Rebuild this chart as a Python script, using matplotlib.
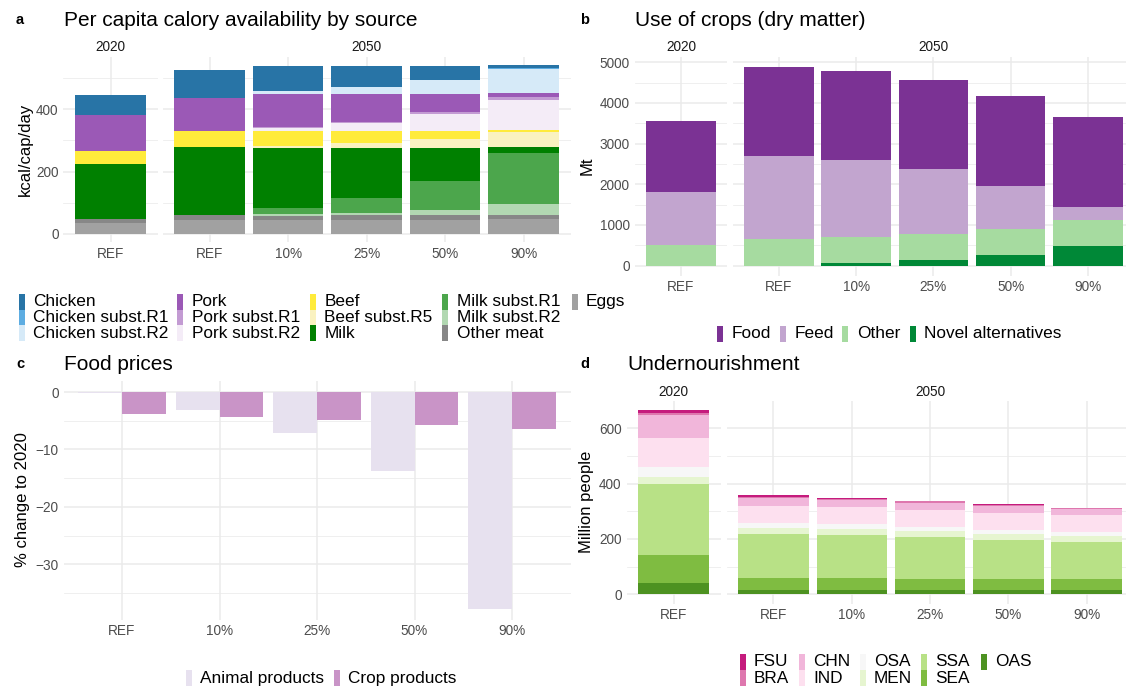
import matplotlib
matplotlib.use("Agg")
import matplotlib.pyplot as plt
from matplotlib.patches import Rectangle
from matplotlib.ticker import MultipleLocator
import numpy as np

W, H = 1126, 689
plt.rcParams['font.family'] = ['Liberation Sans', 'DejaVu Sans']

# ---------------- data ----------------
scen_2020 = ["REF"]
scen_2050 = ["REF", "10%", "25%", "50%", "90%"]

# Panel a: kcal/cap/day (2020 REF, 2050 REF, 10%, 25%, 50%, 90%)
a_sources = ["Chicken", "Chicken subst.R1", "Chicken subst.R2", "Pork", "Pork subst.R1",
             "Pork subst.R2", "Beef", "Beef subst.R5", "Milk", "Milk subst.R1",
             "Milk subst.R2", "Other meat", "Eggs"]
a_colors = ["#2874A6", "#5DADE2", "#D6EAF8", "#9B59B6", "#C39BD3", "#F4ECF7",
            "#FFEB3B", "#FAF2C0", "#008000", "#4CA64C", "#B2D8B2", "#878787", "#A1A1A1"]
chicken = [64, 90, 80, 69, 45, 10]
chicken_r1 = [0, 0, 0, 0, 0, 3]
chicken_r2 = [0, 0, 10, 22, 45, 77]
pork = [116, 106, 106, 90, 58, 12]
pork_r1 = [0, 0, 3, 3, 6, 10]
pork_r2 = [0, 0, 10, 26, 55, 96]
beef = [42, 51, 48, 38, 25, 7]
beef_r5 = [0, 0, 6, 16, 29, 48]
milk = [177, 218, 193, 160, 106, 19]
milk_r1 = [0, 0, 19, 48, 93, 164]
milk_r2 = [0, 0, 6, 6, 16, 35]
other_meat = [13, 16, 13, 16, 16, 13]
eggs = [35, 45, 45, 45, 45, 48]
a_values = [chicken, chicken_r1, chicken_r2, pork, pork_r1, pork_r2, beef, beef_r5,
            milk, milk_r1, milk_r2, other_meat, eggs]

# Panel b: Mt dry matter
b_uses = ["Food", "Feed", "Other", "Novel alternatives"]
b_colors = ["#7B3294", "#C2A5CF", "#A6DBA0", "#008837"]
food = [1746, 2188, 2189, 2189, 2213, 2213]
feed = [1303, 2041, 1893, 1598, 1057, 320]
other = [508, 656, 639, 640, 640, 639]
novel = [0, 0, 66, 139, 262, 484]
b_values = [food, feed, other, novel]

# Panel c: % change to 2020
c_scen = ["REF", "10%", "25%", "50%", "90%"]
animal_products = [-0.1, -3.1, -7.1, -13.7, -37.8]
crop_products = [-3.8, -4.3, -4.8, -5.7, -6.4]
c_labels = ["Animal products", "Crop products"]
c_colors = ["#E7E1EF", "#C994C7"]

# Panel d: million people undernourished
d_regions = ["FSU", "BRA", "CHN", "IND", "OSA", "MEN", "SSA", "SEA", "OAS"]
d_colors = ["#C51B7D", "#DE77AE", "#F1B6DA", "#FDE0EF", "#F7F7F7", "#E6F5D0",
            "#B8E186", "#7FBC41", "#4D9221"]
fsu = [11, 6, 3.6, 0.4, 3.6, 0.4]
bra = [7, 4, 3.6, 7, 3.6, 3.6]
chn = [83, 29, 25, 25, 25, 22]
ind = [105, 61, 61, 61, 61, 61]
osa = [36, 18, 18, 14.5, 14.5, 14.5]
men = [25, 22, 22, 22, 22, 22]
ssa = [257, 159, 155, 152, 141, 134]
sea = [101, 43, 43, 40, 40, 40]
oas = [41, 16, 16, 16, 16, 16]
d_values = [fsu, bra, chn, ind, osa, men, ssa, sea, oas]

# ---------------- helpers ----------------
GRID = "#EBEBEB"
TICKC = "#4D4D4D"
TICKFS = 9.8


def px_axes(fig, x0, x1, ytop, ybot):
    return fig.add_axes([x0 / W, 1 - ybot / H, (x1 - x0) / W, (ybot - ytop) / H])


def style(ax, n, ylim, major, minor, xlabels, show_y):
    ax.set_xlim(-0.6, n - 0.4)
    ax.set_ylim(*ylim)
    ax.set_xticks(np.arange(n))
    ax.set_xticklabels(xlabels)
    ax.yaxis.set_major_locator(MultipleLocator(major))
    ax.yaxis.set_minor_locator(MultipleLocator(minor))
    ax.grid(which='major', color=GRID, lw=1.1)
    ax.grid(which='minor', axis='y', color=GRID, lw=0.55)
    ax.set_axisbelow(True)
    for s in ax.spines.values():
        s.set_visible(False)
    ax.tick_params(which='both', length=0, labelsize=TICKFS, labelcolor=TICKC)
    ax.tick_params(axis='x', pad=3)
    ax.tick_params(axis='y', pad=3.5)
    if not show_y:
        ax.tick_params(labelleft=False)


def stacked(ax, values_top_to_bottom, colors, idx):
    n = len(idx)
    x = np.arange(n)
    bottom = np.zeros(n)
    for vals, col in reversed(list(zip(values_top_to_bottom, colors))):
        v = np.array([vals[i] for i in idx], dtype=float)
        ax.bar(x, v, width=0.9, bottom=bottom, color=col, linewidth=0)
        bottom += v


def ftext(fig, x, y, s, **kw):
    fig.text(x / W, 1 - y / H, s, **kw)


def legend(fig, entries, y_center_rows, text_xs, fs=12.4):
    # entries: (label, color, col, row)
    for label, col, c, r in entries:
        tx = text_xs[c]
        yc = y_center_rows[r]
        kx = tx - 14.5
        fig.add_artist(Rectangle((kx / W, 1 - (yc + 8) / H), 6 / W, 16 / H,
                                 transform=fig.transFigure, facecolor=col,
                                 edgecolor='none'))
        ftext(fig, tx, yc, label, fontsize=fs, ha='left', va='center', color='black')


fig = plt.figure(figsize=(W / 100, H / 100), dpi=100)
fig.patch.set_facecolor('white')

# ---------------- panel a ----------------
a_ylim = (-27.1, 569.1)
ax = px_axes(fig, 63.4, 157.6, 56.6, 242.4)
stacked(ax, a_values, a_colors, [0])
style(ax, 1, a_ylim, 200, 100, scen_2020, True)
ax = px_axes(fig, 162.5, 570.7, 56.6, 242.4)
stacked(ax, a_values, a_colors, [1, 2, 3, 4, 5])
style(ax, 5, a_ylim, 200, 100, scen_2050, False)
ftext(fig, 110.5, 47.3, "2020", fontsize=TICKFS, ha='center', va='center', color='#1A1A1A')
ftext(fig, 366.6, 47.3, "2050", fontsize=TICKFS, ha='center', va='center', color='#1A1A1A')
ftext(fig, 63.6, 20.7, "Per capita calory availability by source", fontsize=15, ha='left', va='center')
ftext(fig, 20, 20, "a", fontsize=10.5, fontweight='bold', ha='center', va='center')
ftext(fig, 25, 149.5, "kcal/cap/day", fontsize=12, rotation=90, ha='center', va='center')

a_cols = [0, 0, 0, 1, 1, 1, 2, 2, 2, 3, 3, 3, 4]
a_rows = [0, 1, 2, 0, 1, 2, 0, 1, 2, 0, 1, 2, 0]
legend(fig, [(l, c, cc, rr) for l, c, cc, rr in zip(a_sources, a_colors, a_cols, a_rows)],
       [301.7, 317.5, 333.3], [33, 192, 324.5, 457, 586])

# ---------------- panel b ----------------
b_ylim = (-244, 5129)
ax = px_axes(fig, 634.6, 727.4, 57.0, 275.6)
stacked(ax, b_values, b_colors, [0])
style(ax, 1, b_ylim, 1000, 500, scen_2020, True)
ax = px_axes(fig, 732.6, 1134.3, 57.0, 275.6)
stacked(ax, b_values, b_colors, [1, 2, 3, 4, 5])
style(ax, 5, b_ylim, 1000, 500, scen_2050, False)
ftext(fig, 681, 47.3, "2020", fontsize=TICKFS, ha='center', va='center', color='#1A1A1A')
ftext(fig, 933, 47.3, "2050", fontsize=TICKFS, ha='center', va='center', color='#1A1A1A')
ftext(fig, 634.7, 20.7, "Use of crops (dry matter)", fontsize=15, ha='left', va='center')
ftext(fig, 585, 20, "b", fontsize=10.5, fontweight='bold', ha='center', va='center')
ftext(fig, 587, 166, "Mt", fontsize=12, rotation=90, ha='center', va='center')
legend(fig, [(l, c, i, 0) for i, (l, c) in enumerate(zip(b_uses, b_colors))],
       [333.5], [731.5, 794.7, 856.8, 924])

# ---------------- panel c ----------------
ax = px_axes(fig, 63.5, 570.5, 381.2, 619.9)
x = np.arange(len(c_scen))
ax.bar(x - 0.225, animal_products, width=0.45, color=c_colors[0], linewidth=0)
ax.bar(x + 0.225, crop_products, width=0.45, color=c_colors[1], linewidth=0)
style(ax, 5, (-39.7, 1.89), 10, 5, c_scen, True)
ftext(fig, 63.6, 364, "Food prices", fontsize=15, ha='left', va='center')
ftext(fig, 20.7, 364, "c", fontsize=10.5, fontweight='bold', ha='center', va='center')
ftext(fig, 23, 500, "% change to 2020", fontsize=12, rotation=90, ha='center', va='center')
legend(fig, [(l, c, i, 0) for i, (l, c) in enumerate(zip(c_labels, c_colors))],
       [678], [200, 348])

# ---------------- panel d ----------------
d_ylim = (-33.3, 699.3)
ax = px_axes(fig, 626.5, 720.5, 400.8, 603.5)
stacked(ax, d_values, d_colors, [0])
style(ax, 1, d_ylim, 200, 100, scen_2020, True)
ax = px_axes(fig, 726.5, 1133.7, 400.8, 603.5)
stacked(ax, d_values, d_colors, [1, 2, 3, 4, 5])
style(ax, 5, d_ylim, 200, 100, scen_2050, False)
ftext(fig, 673.5, 391.7, "2020", fontsize=TICKFS, ha='center', va='center', color='#1A1A1A')
ftext(fig, 930, 391.7, "2050", fontsize=TICKFS, ha='center', va='center', color='#1A1A1A')
ftext(fig, 627.5, 364, "Undernourishment", fontsize=15, ha='left', va='center')
ftext(fig, 584.5, 364, "d", fontsize=10.5, fontweight='bold', ha='center', va='center')
ftext(fig, 587, 502, "Million people", fontsize=12, rotation=90, ha='center', va='center')
d_cols = [0, 0, 1, 1, 2, 2, 3, 3, 4]
d_rows = [0, 1, 0, 1, 0, 1, 0, 1, 0]
legend(fig, [(l, c, cc, rr) for l, c, cc, rr in zip(d_regions, d_colors, d_cols, d_rows)],
       [661.7, 678.3], [754, 813, 874, 935, 995])

fig.savefig("out.png", dpi=100, facecolor='white')
